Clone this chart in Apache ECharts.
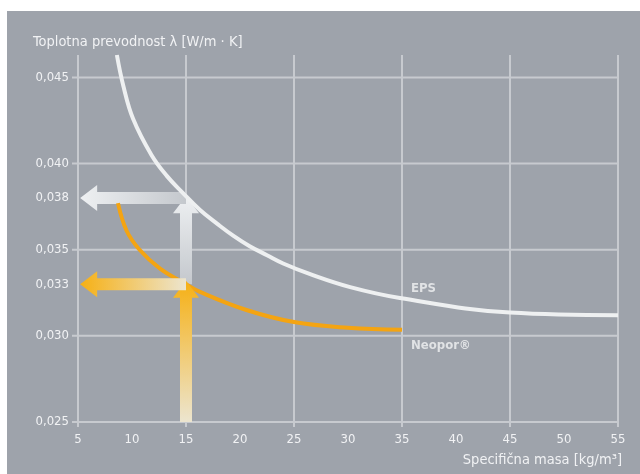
<!DOCTYPE html>
<html>
<head>
<meta charset="utf-8">
<script src="https://cdn.jsdelivr.net/npm/echarts@6/dist/echarts.min.js"></script>
<style>
html,body{margin:0;padding:0;background:#ffffff;width:640px;height:474px;overflow:hidden;}
#chart{position:absolute;left:7px;top:11px;width:633px;height:463px;}
</style>
</head>
<body>
<div id="chart"></div>
<script>
// ---- data ----
var epsData = [
  [8.6, 0.0463], [9.2, 0.0445], [10.1, 0.0426], [11.8, 0.0405], [13.2, 0.0393],
  [14.7, 0.0383], [16.3, 0.0373], [17.9, 0.0365], [19.4, 0.0358], [20.9, 0.0352],
  [22.5, 0.03468], [24, 0.0342], [26.5, 0.03358], [30.2, 0.03283], [34.8, 0.0322],
  [45, 0.03135], [55, 0.0312]
];
var neoporData = [
  [8.7, 0.0377], [9.5, 0.0361], [10.7, 0.0350], [12.6, 0.0339], [15, 0.0330],
  [16.3, 0.03255], [20.6, 0.0315], [25, 0.0308], [30, 0.03047], [35, 0.03035]
];
var yTickLabels = [0.025, 0.030, 0.033, 0.035, 0.038, 0.040, 0.045];
var yGridValues = [0.025, 0.030, 0.035, 0.040, 0.045];
var xGridValues = [5, 15, 25, 35, 45, 55];
// arrows: [fromX, fromY, toX(tip), toY(tip)]
var grayArrows = [
  [15, 0.033, 15, 0.0381],
  [15, 0.038, 5.2, 0.038]
];
var orangeArrows = [
  [15, 0.025, 15, 0.0332],
  [15, 0.033, 5.2, 0.033]
];
var seriesNames = ['EPS', 'Neopor\u00ae'];
var labelAnchors = [[35, 0.0322], [35, 0.03035]];
var titleText = 'Toplotna prevodnost \u03bb [W/m \u00b7 K]';
var xAxisName = 'Specifi\u010dna masa [kg/m\u00b3]';
var X_MIN = 5, X_MAX = 55, Y_MIN = 0.025, Y_MAX = 0.0463;

// ---- rendering ----
var FONT = "'DejaVu Sans Condensed', 'DejaVu Sans', sans-serif";
var TXT = '#f1f2f4';
var GRID = '#c7cacf';
var chart = echarts.init(document.getElementById('chart'));

function arrowRenderer(colorTip, colorTail) {
  return function (params, api) {
    var p0 = api.coord([api.value(0), api.value(1)]);
    var p1 = api.coord([api.value(2), api.value(3)]);
    var dx = p1[0] - p0[0], dy = p1[1] - p0[1];
    var len = Math.sqrt(dx * dx + dy * dy);
    var ux = dx / len, uy = dy / len;
    var nx = -uy, ny = ux;
    var w = 6, hw = 13, hl = 17;
    var bx = p1[0] - ux * hl, by = p1[1] - uy * hl;
    var pts = [
      [p0[0] + nx * w, p0[1] + ny * w],
      [bx + nx * w, by + ny * w],
      [bx + nx * hw, by + ny * hw],
      [p1[0], p1[1]],
      [bx - nx * hw, by - ny * hw],
      [bx - nx * w, by - ny * w],
      [p0[0] - nx * w, p0[1] - ny * w]
    ];
    return {
      type: 'polygon',
      shape: { points: pts },
      style: {
        fill: new echarts.graphic.LinearGradient(p0[0], p0[1], p1[0], p1[1], [
          { offset: 0, color: colorTail },
          { offset: 1, color: colorTip }
        ], true)
      }
    };
  };
}

function hGridRender(params, api) {
  var a = api.coord([X_MIN, api.value(1)]);
  var b = api.coord([X_MAX, api.value(1)]);
  return { type: 'line', shape: { x1: a[0] - 6, y1: a[1], x2: b[0], y2: b[1] },
    style: { stroke: GRID, lineWidth: 2 } };
}
function vGridRender(params, api) {
  var a = api.coord([api.value(0), Y_MIN]);
  var b = api.coord([api.value(0), Y_MAX]);
  return { type: 'line', shape: { x1: a[0], y1: a[1] + 5, x2: b[0], y2: b[1] },
    style: { stroke: GRID, lineWidth: 2 } };
}

var option = {
  backgroundColor: '#9ea3ab',
  animation: false,
  textStyle: { fontFamily: FONT },
  grid: { left: 71, right: 22, top: 44, bottom: 52 },
  graphic: [
    { type: 'text', left: 26, top: 24,
      style: { text: titleText, fill: TXT, font: '14.5px ' + FONT } },
    { type: 'text', right: 18, top: 442,
      style: { text: xAxisName, fill: TXT, font: '14.5px ' + FONT } }
  ],
  xAxis: {
    type: 'value', min: X_MIN, max: X_MAX, interval: 5,
    axisLine: { show: false },
    axisTick: { show: false },
    splitLine: { show: false },
    axisLabel: { color: TXT, fontSize: 13, fontFamily: FONT, margin: 11 }
  },
  yAxis: {
    type: 'value', min: Y_MIN, max: Y_MAX,
    axisLine: { show: false },
    axisTick: { show: false },
    splitLine: { show: false },
    axisLabel: {
      color: TXT, fontSize: 13, fontFamily: FONT, margin: 9,
      customValues: yTickLabels,
      formatter: function (v) { return v.toFixed(3).replace('.', ','); }
    }
  },
  series: [
    {
      type: 'custom', z: 1, silent: true, clip: false,
      renderItem: hGridRender,
      data: yGridValues.map(function (v) { return [X_MIN, v]; })
    },
    {
      type: 'custom', z: 1, silent: true, clip: false,
      renderItem: vGridRender,
      data: xGridValues.map(function (v) { return [v, Y_MIN]; })
    },
    {
      name: 'grayArrows', type: 'custom', z: 3, silent: true,
      renderItem: arrowRenderer('#eef0f2', '#c4c8cd'),
      data: grayArrows
    },
    {
      name: seriesNames[0], type: 'line', data: epsData, smooth: 0.4, z: 4,
      showSymbol: false, symbol: 'none',
      lineStyle: { color: '#eef0f1', width: 4 }
    },
    {
      name: seriesNames[1], type: 'line', data: neoporData, smooth: 0.4, z: 5,
      showSymbol: false, symbol: 'none',
      lineStyle: { color: '#f4a412', width: 4 }
    },
    {
      name: 'orangeArrows', type: 'custom', z: 6, silent: true,
      renderItem: arrowRenderer('#f6b014', '#ece5cf'),
      data: orangeArrows
    },
    {
      type: 'scatter', z: 7, silent: true, symbolSize: 0,
      data: [
        { value: labelAnchors[0], label: { formatter: seriesNames[0], offset: [4, -9] } },
        { value: labelAnchors[1], label: { formatter: seriesNames[1], offset: [4, 16] } }
      ],
      label: {
        show: true, position: 'right',
        color: TXT, fontSize: 13, fontWeight: 'bold', fontFamily: FONT
      }
    }
  ]
};
chart.setOption(option);
</script>
</body>
</html>
